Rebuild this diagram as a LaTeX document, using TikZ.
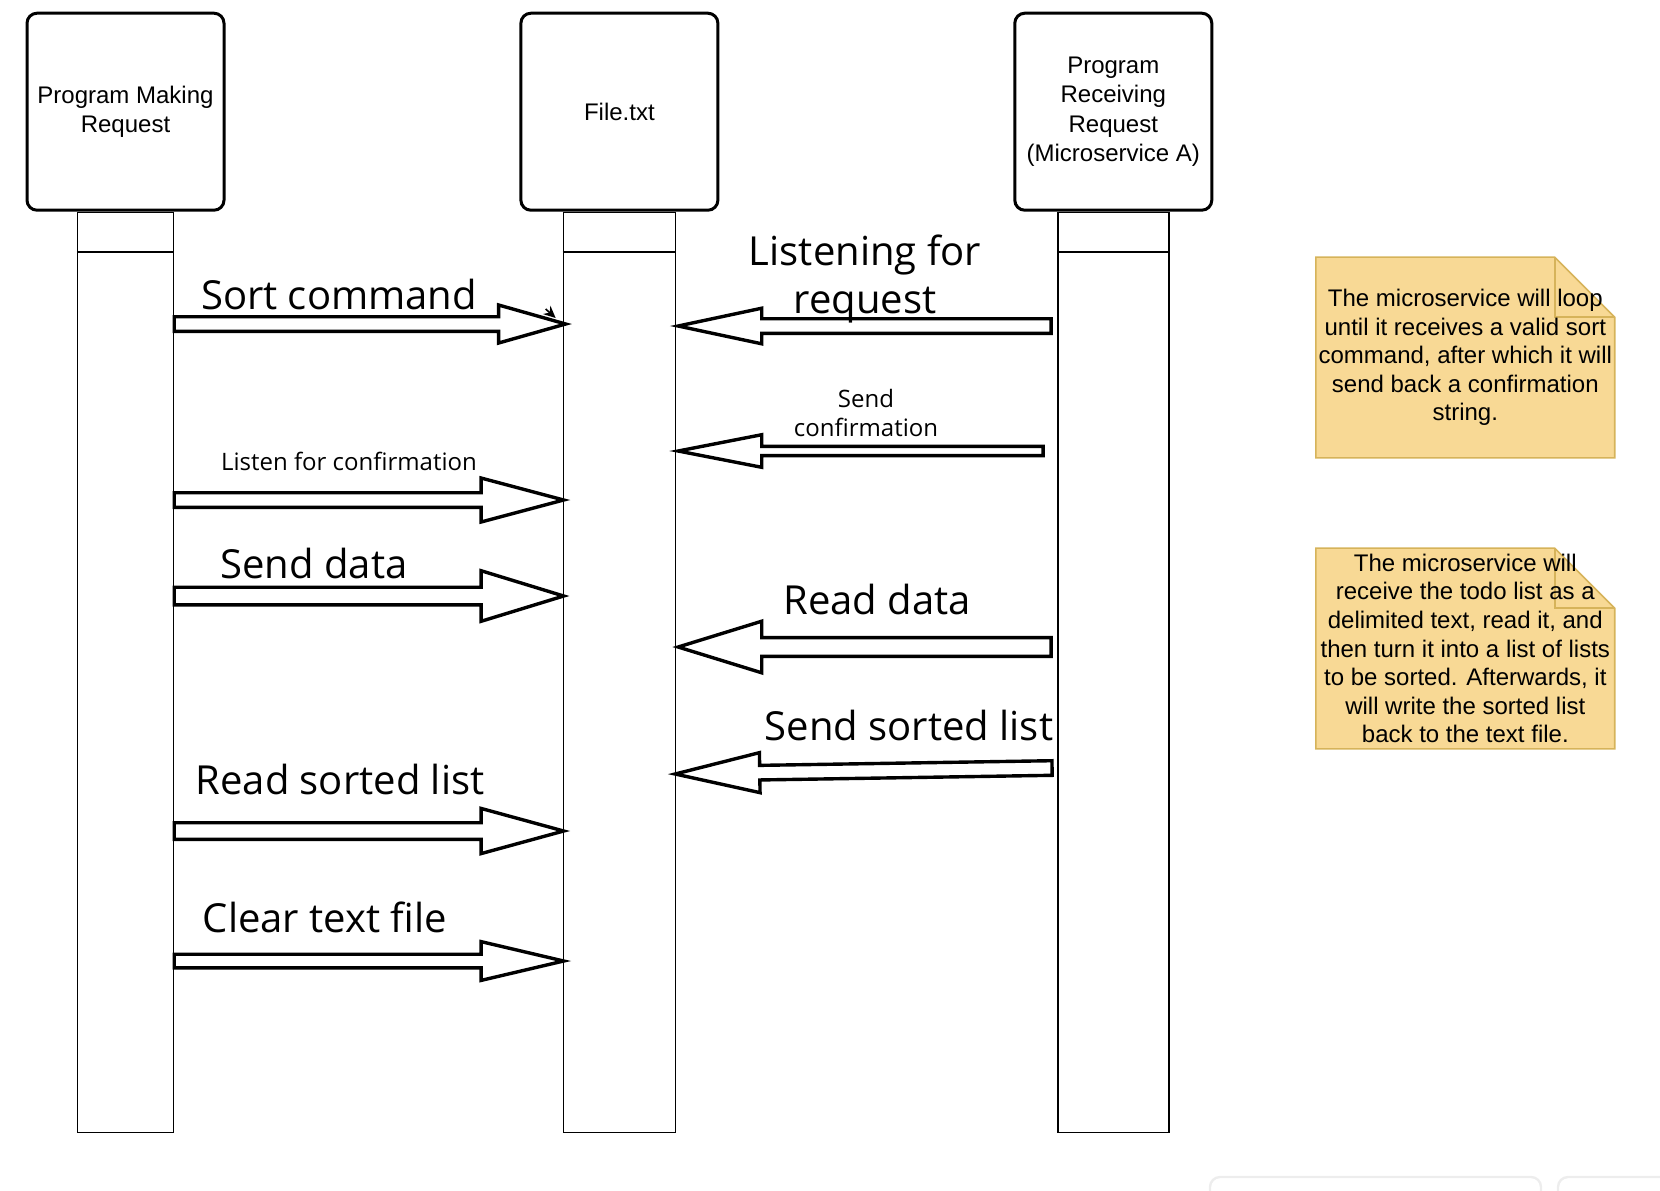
\documentclass[tikz,border=0pt]{standalone}
\usepackage{fontspec}
\setmainfont{Liberation Sans}
\newfontfamily\arrowfont{Open Sans}
\usepackage{xcolor}
\definecolor{noteFill}{HTML}{F8D995}
\definecolor{noteEdge}{HTML}{D6B35A}
\definecolor{ghostGray}{HTML}{EDEDED}
\usepackage{tikz}
\usetikzlibrary{arrows.meta, positioning, calc}
\pgfdeclarelayer{background}
\pgfsetlayers{background,main}
% hollow block arrow: tail, tip, shaft half width, head half width, head length
\newcommand{\fatArrow}[5]{%
    \coordinate (fatBase) at ($(#2)!#5!(#1)$);
    \draw[fatArrowLine]
        ($(#1)!#3!90:(#2)$) -- ($(fatBase)!#3!90:(#2)$) -- ($(fatBase)!#4!90:(#2)$)
        -- (#2) -- ($(fatBase)!#4!-90:(#2)$) -- ($(fatBase)!#3!-90:(#2)$)
        -- ($(#1)!#3!-90:(#2)$) -- cycle;
}

\begin{document}
\begin{tikzpicture}[
    x=0.5pt, y=-0.5pt,
    >=Stealth,
    headBox/.style={
        rectangle,
        rounded corners=5pt,
        draw=black,
        line width=1.5pt,
        minimum width=98.5pt,
        minimum height=98.5pt,
        inner sep=2pt,
        align=center,
        font=\fontsize{12}{14.8}\selectfont
    },
    lifeBox/.style={
        rectangle,
        draw=black,
        line width=0.75pt,
        minimum height=460pt,
        inner sep=0pt
    },
    fatArrowLine/.style={
        draw=black,
        fill=white,
        line width=1.7pt,
        line join=miter
    },
    bigLabel/.style={
        inner sep=0pt,
        align=center,
        font=\arrowfont\fontsize{20}{23.8}\selectfont
    },
    smallLabel/.style={
        inner sep=0pt,
        align=center,
        font=\arrowfont\fontsize{12}{14.3}\selectfont
    },
    noteText/.style={
        minimum width=149pt,
        minimum height=100pt,
        inner sep=0pt,
        align=center,
        font=\fontsize{12}{14.3}\selectfont
    },
    noteShape/.style={
        fill=noteFill,
        draw=noteEdge,
        line width=0.8pt
    }
]
\useasboundingbox (0,0) rectangle (1660,1190);

% Participants
\node[headBox] (headA) at (125.5,111.7) {Program Making\\Request};
\node[headBox] (headB) at (619.4,111.7) {File.txt};
\node[headBox] (headC) at (1113.3,111.7) {Program\\Receiving\\Request\\(Microservice A)};

% Lifelines
\node[lifeBox, minimum width=48pt, below=0pt of headA] (lifeA) {};
\node[lifeBox, minimum width=56pt, below=0pt of headB] (lifeB) {};
\node[lifeBox, minimum width=55.5pt, below=0pt of headC] (lifeC) {};
\foreach \n in {lifeA,lifeB,lifeC}
    \draw[line width=0.75pt] (\n.west |- 0,252) -- (\n.east |- 0,252);

% Program Making Request -> File.txt
\coordinate (sortTail) at (lifeA.east |- 0,324);
\coordinate (sortTip) at ($(lifeB.west |- 0,324)+(3,0)$);
\fatArrow{sortTail}{sortTip}{3.65pt}{9.5pt}{33.5pt}
\draw[-{Stealth[length=6pt,width=5.5pt]}, line width=0.8pt] ($(sortTip)+(-20,-15)$) -- ($(sortTip)+(-10,-6)$);
\node[bigLabel, anchor=base] (sortLabel) at (339,309) {Sort command};

\coordinate (listenTail) at (lifeA.east |- 0,500);
\coordinate (listenTip) at ($(lifeB.west |- 0,500)+(1,0)$);
\fatArrow{listenTail}{listenTip}{3.65pt}{11pt}{41.3pt}
\node[smallLabel, anchor=base] (listenLabel) at (349,470) {Listen for confirmation};

\coordinate (dataTail) at (lifeA.east |- 0,596);
\coordinate (dataTip) at ($(lifeB.west |- 0,596)+(1,0)$);
\fatArrow{dataTail}{dataTip}{4.4pt}{12.65pt}{41.3pt}
\node[bigLabel, anchor=base] (dataLabel) at (314,578) {Send data};

\coordinate (readTail) at (lifeA.east |- 0,831);
\coordinate (readTip) at ($(lifeB.west |- 0,831)+(1,0)$);
\fatArrow{readTail}{readTip}{4.15pt}{11.3pt}{41.3pt}
\node[bigLabel, anchor=base] (readLabel) at (340,794) {Read sorted list};

\coordinate (clearTail) at (lifeA.east |- 0,961);
\coordinate (clearTip) at ($(lifeB.west |- 0,961)+(1,0)$);
\fatArrow{clearTail}{clearTip}{3.4pt}{9.7pt}{41.3pt}
\node[bigLabel, anchor=base] (clearLabel) at (325,932) {Clear text file};

% Program Receiving Request -> File.txt
\coordinate (waitTail) at ($(lifeC.west |- 0,326)+(-6,0)$);
\coordinate (waitTip) at ($(lifeB.east |- 0,326)+(2,0)$);
\fatArrow{waitTail}{waitTip}{3.65pt}{8.9pt}{41.8pt}
\node[bigLabel] (waitLabel) at (865,279) {Listening for\\request};

\coordinate (confTail) at ($(lifeC.west |- 0,451)+(-14,0)$);
\coordinate (confTip) at ($(lifeB.east |- 0,451)+(2,0)$);
\fatArrow{confTail}{confTip}{2.3pt}{8.15pt}{41.8pt}
\node[smallLabel] (confLabel) at (866,413) {Send\\confirmation};

\coordinate (fetchTail) at ($(lifeC.west |- 0,647)+(-6,0)$);
\coordinate (fetchTip) at ($(lifeB.east |- 0,647)+(2,0)$);
\fatArrow{fetchTail}{fetchTip}{4.7pt}{12.9pt}{41.8pt}
\node[bigLabel, anchor=base] (fetchLabel) at (877,614) {Read data};

\coordinate (backTail) at ($(lifeC.west |- 0,768)+(-5,0)$);
\coordinate (backTip) at ($(lifeB.east |- 0,774)+(-1,0)$);
\fatArrow{backTail}{backTip}{3.65pt}{10pt}{42.3pt}
\node[bigLabel, anchor=base] (backLabel) at (909,740) {Send sorted list};

% Notes
\node[noteText] (noteLoop) at (1465.3,357.5) {The microservice will loop\\until it receives a valid sort\\command, after which it will\\send back a confirmation\\string.};
\node[noteText] (noteSort) at (1465.3,648.5) {The microservice will\\receive the todo list as a\\delimited text, read it, and\\then turn it into a list of lists\\to be sorted. Afterwards, it\\will write the sorted list\\back to the text file.};
\begin{pgfonlayer}{background}
\foreach \n in {noteLoop,noteSort} {
    \draw[noteShape] (\n.north west) -- ([xshift=-30pt]\n.north east) -- ([yshift=-30pt]\n.north east)
        -- (\n.south east) -- (\n.south west) -- cycle;
    \draw[noteShape, fill=none] ([xshift=-30pt]\n.north east) |- ([yshift=-30pt]\n.north east);
}
\end{pgfonlayer}

% faint frames at the bottom edge
\draw[ghostGray, line width=1.2pt, rounded corners=5pt] (1210,1192) |- (1541,1177) -- (1541,1192);
\draw[ghostGray, line width=1.2pt, rounded corners=5pt] (1558,1192) |- (1680,1177);

\end{tikzpicture}
\end{document}
